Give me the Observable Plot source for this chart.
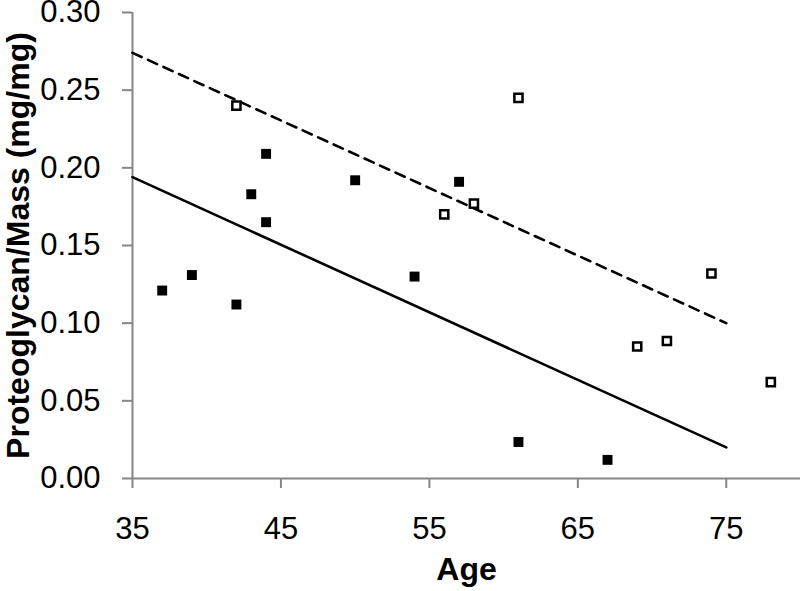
<!DOCTYPE html>
<html>
<head>
<meta charset="utf-8">
<script src="https://cdn.jsdelivr.net/npm/d3@7"></script>
<script src="https://cdn.jsdelivr.net/npm/@observablehq/plot@0.6"></script>
<style>
  html, body { margin: 0; padding: 0; background: white; }
</style>
</head>
<body>
<div id="chart"></div>
<script>
// Filled squares
const ageFilled = [37, 39, 42, 43, 44, 44, 50, 54, 57, 61, 67];
const pgFilled  = [0.121, 0.131, 0.112, 0.183, 0.209, 0.165, 0.192, 0.130, 0.191, 0.0235, 0.012];
// Open squares
const ageOpen = [42, 56, 58, 61, 69, 71, 74, 78];
const pgOpen  = [0.240, 0.170, 0.177, 0.245, 0.085, 0.0885, 0.132, 0.062];
// Trend lines
const trendAge    = [35, 75];
const trendFilled = [0.194, 0.020];
const trendOpen   = [0.274, 0.100];
// Ticks and labels
const xTicks = [35, 45, 55, 65, 75];
const yTicks = [0, 0.05, 0.10, 0.15, 0.20, 0.25, 0.30];
const xLabel = "Age";
const yLabel = "Proteoglycan/Mass (mg/mg)";

const axisGray = "#868686";

const chart = Plot.plot({
  width: 800,
  height: 591,
  marginLeft: 132,
  marginRight: 0,
  marginTop: 12,
  marginBottom: 113,
  style: { fontFamily: "'Liberation Sans', Arial, sans-serif", fontSize: "31px", background: "white", color: "black", overflow: "visible" },
  x: { domain: [35, 80] },
  y: { domain: [0, 0.3] },
  marks: [
    Plot.ruleX([35], { y1: 0, y2: 0.3, stroke: axisGray, strokeWidth: 2 }),
    Plot.ruleY([0], { x1: 35, x2: 80, stroke: axisGray, strokeWidth: 2 }),
    Plot.axisY({ ticks: yTicks, tickFormat: d => d.toFixed(2), tickSize: 10, tickPadding: 22,
      stroke: axisGray, strokeWidth: 2, strokeOpacity: 1, fill: "black", fontSize: 31, label: null }),
    Plot.axisX({ ticks: xTicks, tickFormat: d => String(d), tickSize: 10, tickPadding: 28,
      stroke: axisGray, strokeWidth: 2, strokeOpacity: 1, fill: "black", fontSize: 31, label: null }),
    Plot.line(trendOpen, { x: trendAge, y: trendOpen, stroke: "black", strokeWidth: 2.6, strokeDasharray: "10,7" }),
    Plot.line(trendFilled, { x: trendAge, y: trendFilled, stroke: "black", strokeWidth: 2.6 }),
    Plot.dot(pgOpen, { x: ageOpen, y: pgOpen, symbol: "square", r: 4.6, stroke: "black", strokeWidth: 2.5, fill: "white" }),
    Plot.dot(pgFilled, { x: ageFilled, y: pgFilled, symbol: "square", r: 5.6, fill: "black", stroke: "none" }),
    Plot.text([xLabel], { frameAnchor: "bottom", dy: 91, text: d => d, fontWeight: "bold", fontSize: 32, textAnchor: "middle", lineAnchor: "middle", fill: "black" }),
    Plot.text([yLabel], { frameAnchor: "left", dx: -114, rotate: -90, text: d => d, fontWeight: "bold", fontSize: 32, textAnchor: "middle", lineAnchor: "middle", fill: "black" })
  ]
});
document.getElementById("chart").appendChild(chart);
</script>
</body>
</html>
